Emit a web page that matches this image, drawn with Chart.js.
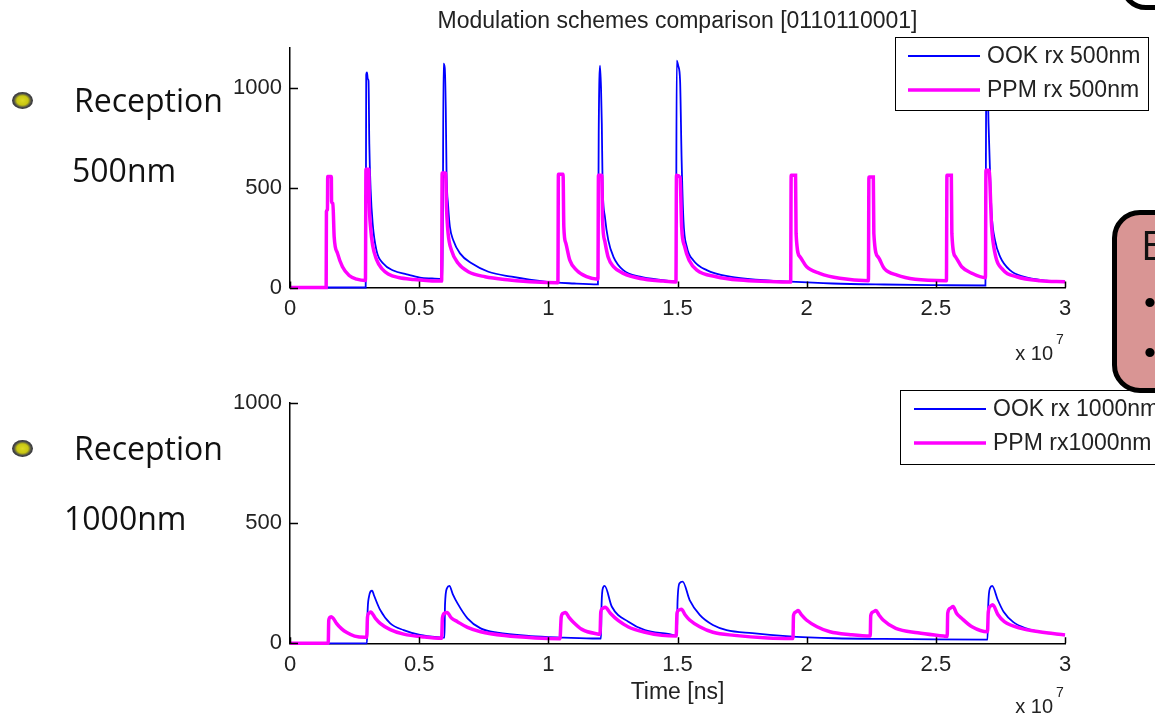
<!DOCTYPE html>
<html>
<head>
<meta charset="utf-8">
<script src="https://cdn.jsdelivr.net/npm/chart.js@4.4.1/dist/chart.umd.min.js"></script>
<style>
  html, body { margin: 0; padding: 0; background: #fff; }
  body { width: 1155px; height: 714px; position: relative; overflow: hidden; font-family: "Open Sans", sans-serif; }
  canvas { position: absolute; left: 0; }
  #chart-500 { top: 0; }
  #chart-1000 { top: 357px; }
  .bullet {
    position: absolute; width: 21px; height: 17px; border-radius: 50%;
    background: radial-gradient(ellipse at 50% 50%, #dcd924 0, #c8c612 38%, #4a4a4a 58%, #262626 80%, #555 100%);
  }
  .side { position: absolute; font-size: 32px; line-height: 32px; color: #111; white-space: nowrap; }
  .callout {
    position: absolute; left: 1112px; top: 210px; width: 120px; height: 173px;
    border: 5px solid #000; border-radius: 28px; background: #d99594; z-index: 5;
  }
  .callout .head { position: absolute; left: 24px; top: 10px; font-size: 40px; line-height: 40px; color: #111; }
  .callout .dot { position: absolute; left: 27px; font-family: "Liberation Sans", sans-serif; font-size: 34px; line-height: 34px; color: #000; }
  .corner {
    position: absolute; left: 1120px; top: -62px; width: 120px; height: 62px;
    border: 5px solid #000; border-radius: 26px; background: #fff; z-index: 5;
  }
</style>
</head>
<body>
<canvas id="chart-500" width="1155" height="375" style="width:1155px;height:375px"></canvas>
<canvas id="chart-1000" width="1155" height="357" style="width:1155px;height:357px"></canvas>

<div class="bullet" style="left:12px;top:92px"></div>
<div class="side" style="left:74px;top:84px">Reception</div>
<div class="side" style="left:72px;top:154px">500nm</div>
<div class="bullet" style="left:12px;top:440px"></div>
<div class="side" style="left:74px;top:432px">Reception</div>
<div class="side" style="left:64px;top:502px">1000nm</div>

<div class="callout">
  <div class="head">E</div>
  <div class="dot" style="top:70px">•</div>
  <div class="dot" style="top:120px">•</div>
</div>
<div class="corner"></div>

<script>
// time axis in units of 1e7 (ns)
const timeTicks = [0, 0.5, 1, 1.5, 2, 2.5, 3];
const timeTickLabels = ["0", "0.5", "1", "1.5", "2", "2.5", "3"];
const countTicks500 = [0, 500, 1000];
const countTicks1000 = [0, 500, 1000];

// received signal, 500nm — [time, count]
const ookRx500 = [
  [0, 0], [0.293, 0],
  [0.295, 1065], [0.298, 1078], [0.301, 1045], [0.304, 1035], [0.307, 720], [0.312, 495], [0.32, 320], [0.335, 185], [0.361, 120], [0.4, 85], [0.452, 66], [0.503, 50], [0.55, 45], [0.591, 42],
  [0.594, 1121], [0.599, 1100], [0.603, 896], [0.606, 571], [0.612, 412], [0.619, 304], [0.632, 237], [0.658, 171], [0.703, 121], [0.768, 79], [0.858, 54], [0.987, 29], [1.1, 20], [1.192, 16],
  [1.195, 771], [1.2, 1112], [1.204, 1000], [1.207, 821], [1.21, 521], [1.219, 354], [1.232, 237], [1.252, 154], [1.29, 87], [1.355, 54], [1.445, 37], [1.494, 30],
  [1.497, 1137], [1.503, 1110], [1.51, 1037], [1.516, 637], [1.523, 337], [1.536, 204], [1.561, 137], [1.613, 87], [1.703, 54], [1.832, 37], [1.936, 29], [2.1, 20], [2.3, 15], [2.5, 12], [2.692, 10],
  [2.695, 1040], [2.7, 1060], [2.704, 821], [2.71, 571], [2.716, 371], [2.729, 237], [2.749, 154], [2.787, 87], [2.839, 54], [2.929, 34], [3.0, 29],
];
const ppmRx500 = [
  [0, 0], [0.14, 0], [0.141, 380], [0.145, 390], [0.146, 556], [0.16, 556], [0.161, 430], [0.166, 420], [0.171, 254], [0.184, 171], [0.203, 104], [0.229, 60], [0.258, 42], [0.292, 35],
  [0.294, 592], [0.305, 592], [0.307, 420], [0.312, 300], [0.32, 210], [0.335, 140], [0.355, 95], [0.38, 68], [0.42, 50], [0.48, 40], [0.55, 33], [0.587, 32],
  [0.589, 574], [0.602, 574], [0.606, 396], [0.612, 271], [0.625, 187], [0.651, 121], [0.69, 79], [0.755, 54], [0.85, 38], [0.95, 27], [1.037, 24],
  [1.039, 567], [1.057, 567], [1.06, 304], [1.068, 221], [1.083, 137], [1.109, 87], [1.148, 54], [1.192, 41],
  [1.194, 562], [1.207, 562], [1.21, 337], [1.219, 230], [1.232, 150], [1.252, 105], [1.29, 71], [1.355, 45], [1.445, 32], [1.494, 28],
  [1.496, 562], [1.51, 552], [1.516, 304], [1.528, 204], [1.545, 137], [1.575, 87], [1.65, 54], [1.74, 37], [1.85, 30], [1.938, 27],
  [1.94, 562], [1.957, 562], [1.959, 271], [1.974, 154], [2.0, 104], [2.05, 71], [2.128, 46], [2.239, 34],
  [2.241, 554], [2.258, 554], [2.26, 271], [2.276, 154], [2.3, 96], [2.35, 62], [2.42, 41], [2.541, 34],
  [2.543, 562], [2.56, 562], [2.562, 271], [2.576, 154], [2.6, 104], [2.64, 71], [2.692, 49],
  [2.694, 587], [2.706, 587], [2.716, 304], [2.729, 171], [2.761, 87], [2.813, 54], [2.903, 34], [3.0, 29],
];

// received signal, 1000nm — [time, count]
const ookRx1000 = [
  [0, 0], [0.298, 0],
  [0.3, 120], [0.305, 190], [0.318, 219], [0.325, 200], [0.349, 139], [0.388, 83], [0.44, 55], [0.503, 35], [0.58, 25], [0.598, 24],
  [0.6, 160], [0.608, 230], [0.617, 239], [0.63, 205], [0.648, 167], [0.687, 104], [0.738, 62], [0.803, 44], [0.932, 30], [1.06, 24], [1.19, 20], [1.204, 20],
  [1.206, 160], [1.212, 232], [1.218, 239], [1.246, 152], [1.31, 90], [1.374, 55], [1.464, 39], [1.498, 32],
  [1.5, 170], [1.508, 250], [1.52, 257], [1.547, 180], [1.586, 118], [1.637, 76], [1.69, 55], [1.79, 42], [1.92, 30], [2.11, 21], [2.3, 18], [2.5, 16], [2.7, 15],
  [2.703, 160], [2.71, 230], [2.718, 239], [2.74, 180], [2.763, 130], [2.8, 88], [2.85, 62], [2.92, 44], [3.0, 35],
];
const ppmRx1000 = [
  [0, 0], [0.148, 0],
  [0.15, 95], [0.155, 108], [0.16, 111], [0.17, 100], [0.18, 83], [0.2, 60], [0.22, 45], [0.25, 30], [0.29, 25], [0.297, 25],
  [0.3, 110], [0.305, 125], [0.312, 130], [0.33, 105], [0.349, 83], [0.388, 57], [0.44, 38], [0.52, 26], [0.587, 21],
  [0.59, 105], [0.598, 125], [0.608, 128], [0.625, 105], [0.648, 90], [0.687, 66], [0.738, 48], [0.83, 32], [0.95, 22], [1.045, 19],
  [1.05, 110], [1.058, 125], [1.067, 128], [1.08, 108], [1.095, 90], [1.13, 58], [1.19, 39], [1.2, 38],
  [1.203, 130], [1.21, 145], [1.22, 150], [1.24, 125], [1.27, 95], [1.31, 68], [1.37, 47], [1.44, 33], [1.495, 30],
  [1.498, 125], [1.505, 138], [1.515, 142], [1.53, 118], [1.547, 97], [1.586, 69], [1.637, 46], [1.72, 33], [1.85, 22], [1.947, 20],
  [1.949, 115], [1.957, 130], [1.967, 136], [1.98, 118], [1.999, 97], [2.04, 69], [2.09, 48], [2.17, 36], [2.246, 30],
  [2.248, 115], [2.256, 130], [2.268, 136], [2.28, 118], [2.296, 97], [2.345, 62], [2.43, 44], [2.53, 30], [2.544, 28],
  [2.546, 125], [2.555, 145], [2.567, 153], [2.58, 125], [2.6, 104], [2.64, 69], [2.7, 48],
  [2.703, 130], [2.712, 155], [2.72, 160], [2.74, 120], [2.765, 90], [2.83, 62], [2.9, 48], [3.0, 35],
];

Chart.defaults.font.family = "'Liberation Sans', Arial, sans-serif";
Chart.defaults.color = "#222";

const OOK_COLOR = "#0000ff";
const PPM_COLOR = "#ff00ff";

// MATLAB-style inward ticks, boxed legend and the x10^7 exponent
const matlabAxesPlugin = {
  id: "matlabAxes",
  afterDraw(chart, args, opts) {
    const { ctx, chartArea, scales } = chart;
    ctx.save();
    ctx.strokeStyle = "#000";
    ctx.lineWidth = 1.5;
    ctx.beginPath();
    scales.x.ticks.forEach((t) => {
      const px = Math.round(scales.x.getPixelForValue(t.value)) + 0.5;
      ctx.moveTo(px, chartArea.bottom);
      ctx.lineTo(px, chartArea.bottom - 6);
    });
    scales.y.ticks.forEach((t) => {
      const py = Math.round(scales.y.getPixelForValue(t.value)) + 0.5;
      ctx.moveTo(chartArea.left, py);
      ctx.lineTo(chartArea.left + 8, py);
    });
    ctx.stroke();

    // exponent
    ctx.fillStyle = "#222";
    ctx.textBaseline = "middle";
    ctx.font = "20px 'Liberation Sans', Arial, sans-serif";
    ctx.textAlign = "right";
    ctx.fillText("x 10", opts.expX, opts.expY);
    ctx.font = "14px 'Liberation Sans', Arial, sans-serif";
    ctx.textAlign = "left";
    ctx.fillText("7", opts.expX + 3, opts.expY - 14);

    // legend
    const lg = opts.legend;
    ctx.fillStyle = "#fff";
    ctx.fillRect(lg.left, lg.top, lg.right - lg.left, lg.bottom - lg.top);
    ctx.lineWidth = 1;
    ctx.strokeStyle = "#000";
    ctx.strokeRect(lg.left + 0.5, lg.top + 0.5, lg.right - lg.left, lg.bottom - lg.top);
    ctx.font = "23px 'Liberation Sans', Arial, sans-serif";
    ctx.textAlign = "left";
    chart.data.datasets.forEach((ds, i) => {
      const y = lg.rows[i];
      ctx.strokeStyle = ds.borderColor;
      ctx.lineWidth = ds.borderWidth;
      ctx.beginPath();
      ctx.moveTo(lg.lineFrom, y);
      ctx.lineTo(lg.lineTo, y);
      ctx.stroke();
      ctx.fillStyle = "#222";
      ctx.fillText(ds.label, lg.textX, y + 1);
    });
    ctx.restore();
  },
};

function buildPanel(canvasId, panel) {
  const canvas = document.getElementById(canvasId);
  return new Chart(canvas, {
    type: "line",
    data: {
      datasets: [
        {
          label: panel.ookLabel,
          data: panel.ook,
          borderColor: OOK_COLOR,
          borderWidth: 1.8,
          pointRadius: 0,
          cubicInterpolationMode: "monotone",
          clip: 6,
          order: 2,
        },
        {
          label: panel.ppmLabel,
          data: panel.ppm,
          borderColor: PPM_COLOR,
          borderWidth: 3.5,
          pointRadius: 0,
          cubicInterpolationMode: "monotone",
          clip: 6,
          order: 1,
        },
      ],
    },
    plugins: [matlabAxesPlugin],
    options: {
      responsive: false,
      animation: false,
      events: [],
      layout: { padding: { top: panel.padTop, right: 90, left: 0, bottom: 0 } },
      scales: {
        x: {
          type: "linear",
          min: 0,
          max: 3,
          afterBuildTicks(scale) {
            scale.ticks = timeTicks.map((v) => ({ value: v }));
          },
          afterFit(scale) {
            scale.height = panel.xAxisHeight;
          },
          ticks: {
            autoSkip: false,
            maxRotation: 0,
            padding: 8,
            font: { size: 22 },
            callback: (v, i) => timeTickLabels[i],
          },
          grid: { display: true, drawOnChartArea: false, drawTicks: false },
          border: { display: true, color: "#000", width: 1.5 },
          title: panel.xTitle
            ? { display: true, text: panel.xTitle, font: { size: 23 }, color: "#222", padding: { top: 0, bottom: 8 } }
            : { display: false },
        },
        y: {
          type: "linear",
          min: 0,
          max: panel.yMax,
          afterBuildTicks(scale) {
            scale.ticks = panel.yTicks.map((v) => ({ value: v }));
          },
          afterFit(scale) {
            scale.width = 290;
          },
          ticks: { padding: 8, font: { size: 22 }, callback: (v) => String(v) },
          grid: { display: true, drawOnChartArea: false, drawTicks: false },
          border: { display: true, color: "#000", width: 1.5 },
        },
      },
      plugins: {
        legend: { display: false },
        tooltip: { enabled: false },
        title: panel.title
          ? {
              display: true,
              fullSize: false,
              text: panel.title,
              font: { size: 23, weight: "normal" },
              color: "#222",
              padding: { top: 8, bottom: 12.4 },
            }
          : { display: false },
        matlabAxes: {
          expX: 1053,
          expY: panel.expY,
          legend: panel.legend,
        },
      },
    },
  });
}

buildPanel("chart-500", {
  title: "Modulation schemes comparison [0110110001]",
  ookLabel: "OOK rx 500nm",
  ppmLabel: "PPM rx 500nm",
  ook: ookRx500,
  ppm: ppmRx500,
  yMax: 1200,
  yTicks: countTicks500,
  padTop: 0,
  xAxisHeight: 87.5,
  expY: 354,
  legend: { left: 895, top: 37, right: 1148, bottom: 110, rows: [56, 90], lineFrom: 908, lineTo: 980, textX: 987 },
});

buildPanel("chart-1000", {
  title: null,
  xTitle: "Time [ns]",
  ookLabel: "OOK rx 1000nm",
  ppmLabel: "PPM rx1000nm",
  ook: ookRx1000,
  ppm: ppmRx1000,
  yMax: 1000,
  yTicks: countTicks1000,
  padTop: 46,
  xAxisHeight: 70.7,
  expY: 350,
  legend: { left: 900, top: 33, right: 1170, bottom: 107, rows: [52, 86], lineFrom: 914, lineTo: 986, textX: 993 },
});
</script>
</body>
</html>
